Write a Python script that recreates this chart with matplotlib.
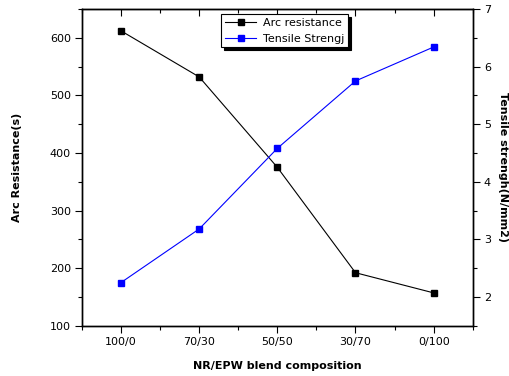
import matplotlib.pyplot as plt
from matplotlib.ticker import MultipleLocator

plt.rcParams['font.family'] = ['DejaVu Sans']

blends = ['100/0', '70/30', '50/50', '30/70', '0/100']
arc_resistance = [612, 532, 375, 192, 157]
tensile = [2.25, 3.18, 4.58, 5.75, 6.34]


def main():
    fig = plt.figure(figsize=(5.09, 3.76), dpi=100)
    ax = fig.add_axes([82 / 509, 1 - 325.7 / 376, (472.7 - 82) / 509, (325.7 - 9) / 376])
    ax2 = ax.twinx()

    x = list(range(len(blends)))
    l1, = ax.plot(x, arc_resistance, color='black', lw=0.8, marker='s', ms=5,
                  label='Arc resistance')
    l2, = ax2.plot(x, tensile, color='blue', lw=0.8, marker='s', ms=5,
                   label='Tensile Strengj')

    ax.set_xlim(-0.5, 4.5)
    ax.set_xticks(x)
    ax.set_xticklabels(blends)
    ax.xaxis.set_minor_locator(MultipleLocator(0.5))
    ax.set_ylim(100, 650)
    ax.yaxis.set_major_locator(MultipleLocator(100))
    ax.yaxis.set_minor_locator(MultipleLocator(50))
    ax2.set_ylim(1.5, 7)
    ax2.yaxis.set_major_locator(MultipleLocator(1))
    ax2.yaxis.set_minor_locator(MultipleLocator(0.5))

    for a in (ax, ax2):
        for s in a.spines.values():
            s.set_linewidth(1.0)
        a.tick_params(which='major', length=5, width=0.8, labelsize=8, pad=3)
        a.tick_params(which='minor', length=3, width=0.8)

    # ticks pointing inward along the top
    top = ax.secondary_xaxis('top')
    top.set_xticks(x)
    top.set_xticklabels([])
    top.xaxis.set_minor_locator(MultipleLocator(0.5))
    top.tick_params(which='major', direction='in', length=5, width=0.8)
    top.tick_params(which='minor', direction='in', length=3, width=0.8)

    ax.set_xlabel('NR/EPW blend composition', fontsize=8, fontweight='bold', labelpad=10)
    ax.set_ylabel('Arc Resistance(s)', fontsize=8, fontweight='bold', labelpad=20)
    ax2.set_ylabel('Tensile strengh(N/mm2)', fontsize=8, fontweight='bold',
                   rotation=270, labelpad=12)

    leg = ax.legend(handles=[l1, l2], loc='upper left', bbox_to_anchor=(0.357, 0.984),
                    fontsize=8, fancybox=False, edgecolor='black', framealpha=1,
                    shadow={'color': 'black', 'alpha': 1}, borderpad=0.35,
                    handlelength=2.8, handletextpad=0.6, labelspacing=0.5,
                    borderaxespad=0)
    leg.get_frame().set_linewidth(0.8)

    fig.savefig('out.png', dpi=100)


if __name__ == "__main__":
    main()
